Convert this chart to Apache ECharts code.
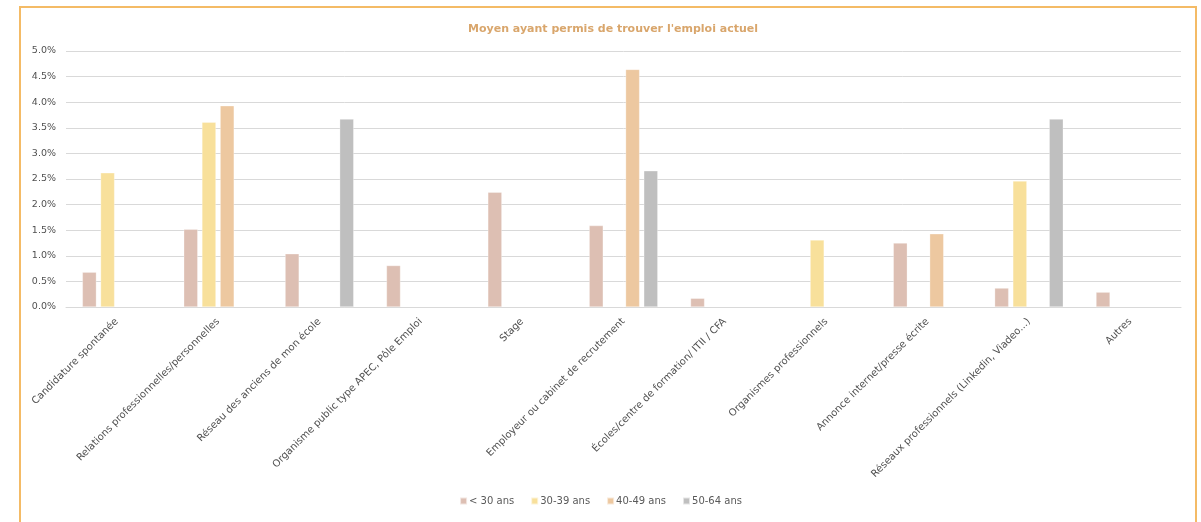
<!DOCTYPE html>
<html><head><meta charset="utf-8">
<script src="https://cdn.jsdelivr.net/npm/echarts@6/dist/echarts.min.js"></script>
<style>
html,body{margin:0;padding:0;background:#fff;}
#c{position:absolute;left:0;top:0;width:1201px;height:522px;}
#frame{position:absolute;left:19px;top:6px;width:1174px;height:600px;border:2px solid #F4BB66;pointer-events:none;}
</style></head>
<body>
<div id="c"></div>
<div id="frame"></div>
<script>
const categories = [
  "Candidature spontanée",
  "Relations professionnelles/personnelles",
  "Réseau des anciens de mon école",
  "Organisme public type APEC, Pôle Emploi",
  "Stage",
  "Employeur ou cabinet de recrutement",
  "Écoles/centre de formation/ ITII / CFA",
  "Organismes professionnels",
  "Annonce internet/presse écrite",
  "Réseaux professionnels (Linkedin, Viadeo...)",
  "Autres"
];
const seriesNames = ["< 30 ans", "30-39 ans", "40-49 ans", "50-64 ans"];
const under30 = [0.68, 1.52, 1.04, 0.81, 2.24, 1.59, 0.17, null, 1.25, 0.37, 0.29];
const age30_39 = [2.62, 3.61, null, null, null, null, null, 1.31, null, 2.46, null];
const age40_49 = [null, 3.93, null, null, null, 4.64, null, null, 1.43, null, null];
const age50_64 = [null, null, 3.67, null, null, 2.66, null, null, null, 3.67, null];
const yTicks = { min: 0, max: 5, interval: 0.5 };

const colors = ["#DDBFB3", "#F8E09B", "#EDC8A0", "#BFBFBF"];
const font = "'DejaVu Sans', sans-serif";
const chart = echarts.init(document.getElementById('c'));
const data = [under30, age30_39, age40_49, age50_64];
chart.setOption({
  animation: false,
  textStyle: { fontFamily: font },
  title: {
    text: "Moyen ayant permis de trouver l'emploi actuel",
    left: 608, top: 19, textAlign: 'center',
    textStyle: { fontSize: 11, fontWeight: 'bold', color: '#D9A66C', fontFamily: font }
  },
  legend: {
    bottom: 11, left: 'center', itemWidth: 7, itemHeight: 7, itemGap: 16,
    icon: 'rect',
    textStyle: { fontSize: 10, color: '#595959', fontFamily: font, padding: [0,0,0,-3] },
    data: seriesNames
  },
  grid: { left: 66, right: 20, top: 51, bottom: 215 },
  xAxis: {
    type: 'category', data: categories,
    axisLine: { lineStyle: { color: '#D9D9D9' } },
    axisTick: { show: false },
    axisLabel: { rotate: 45, interval: 0, fontSize: 10, color: '#505050', margin: 13, fontFamily: font }
  },
  yAxis: {
    type: 'value', min: yTicks.min, max: yTicks.max, interval: yTicks.interval,
    axisLine: { show: false }, axisTick: { show: false },
    splitLine: { lineStyle: { color: '#D9D9D9' } },
    axisLabel: { formatter: v => v.toFixed(1) + '%', fontSize: 9.5, color: '#505050', margin: 10, fontFamily: font }
  },
  series: seriesNames.map((n, i) => ({
    name: n, type: 'bar', data: data[i], barWidth: 14, barGap: '30%',
    itemStyle: { color: colors[i], borderColor: 'rgba(255,255,255,0.6)', borderWidth: 0.5 }
  }))
});
</script>
</body></html>
